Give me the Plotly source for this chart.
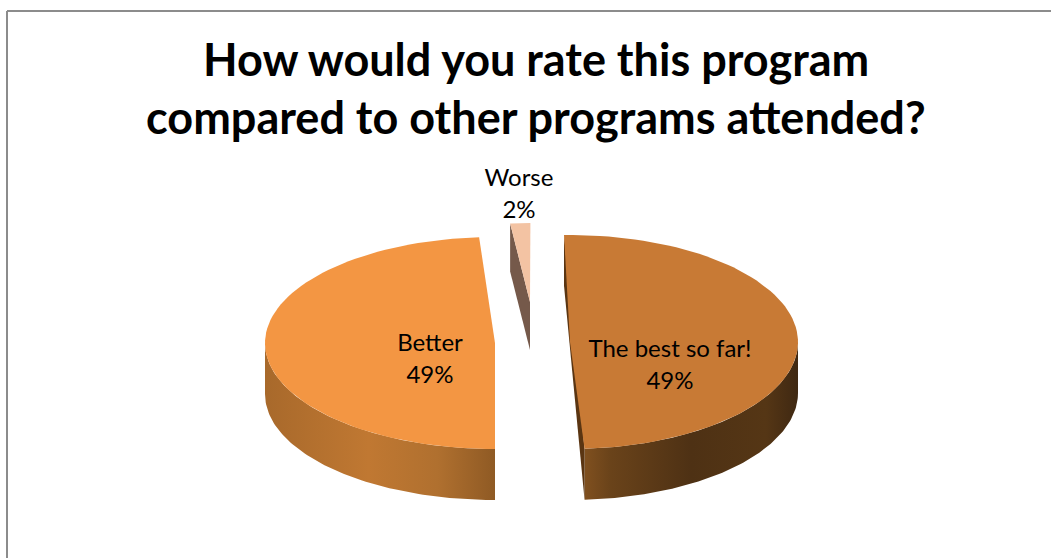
import numpy as np
import plotly.graph_objects as go

# Data (labels show rounded percentages)
categories = ["The best so far!", "Better", "Worse"]
shares = [49.4, 48.9, 1.7]

# Pseudo-3D styling, one entry per slice
start_deg = [-1.5, 180.0, 354.0]
center_x = [570.0, 495.0, 530.0]
center_y = [342.0, 343.0, 302.0]
radius_x = [228.0, 230.0, 190.0]
radius_y = [107.0, 106.0, 79.0]
depth = [51.0, 51.0, 48.0]
top_colors = ["#c87a35", "#f39643", "#f3c3a3"]
wall_scales = [
    [[0, "#80501f"], [0.12, "#6a431a"], [0.5, "#4e3114"], [0.85, "#553615"], [1, "#3f2812"]],
    [[0, "#a8692b"], [0.45, "#c07832"], [0.75, "#b0702f"], [1, "#8f5a24"]],
    [[0, "#8a6a58"], [1, "#655044"]],
]
cut_colors = ["#5a3512", "#c07a33", "#75594a"]
label_x = [670.0, 430.0, 519.0]
label_y = [367.0, 361.0, 196.0]
label_colors = ["#000000", "#000000", "#000000"]


def rim(i, a0, a1, n=80):
    t = np.radians(np.linspace(a0, a1, n))
    return center_x[i] + radius_x[i] * np.sin(t), center_y[i] - radius_y[i] * np.cos(t)


fig = go.Figure()
for i, share in enumerate(shares):
    a0 = start_deg[i]
    a1 = a0 + share * 3.6
    w0, w1 = max(a0, 90.0), min(a1, 270.0)
    if w1 > w0:
        x, y = rim(i, w0, w1)
        fig.add_trace(go.Scatter(
            x=np.r_[x, x[::-1]], y=np.r_[y, y[::-1] + depth[i]],
            mode="lines", line=dict(width=0), fill="toself",
            fillgradient=dict(type="horizontal", colorscale=wall_scales[i]),
            hoverinfo="skip", showlegend=False))
    if i in (0, 2):
        ex, ey = rim(i, a0, a0, 1)
        cx, cy = center_x[i], center_y[i]
        if i == 0:
            bx, by = rim(i, a1, a1, 1)
            px, py = [ex[0], bx[0], bx[0], ex[0]], [ey[0], by[0], by[0] + depth[i], ey[0] + depth[i]]
        else:
            px, py = [ex[0], cx, cx, ex[0]], [ey[0], cy, cy + depth[i], ey[0] + depth[i]]
        fig.add_trace(go.Scatter(
            x=px, y=py, mode="lines", line=dict(width=0), fill="toself",
            fillcolor=cut_colors[i], hoverinfo="skip", showlegend=False))
    x, y = rim(i, a0, a1)
    fig.add_trace(go.Scatter(
        x=np.r_[center_x[i], x, center_x[i]], y=np.r_[center_y[i], y, center_y[i]],
        mode="lines", line=dict(width=0), fill="toself", fillcolor=top_colors[i],
        name=categories[i], hoverinfo="name", showlegend=False))

fig.add_trace(go.Scatter(
    x=label_x, y=label_y, mode="text",
    text=[f"{c}<br>{round(s)}%" for c, s in zip(categories, shares)],
    textposition="middle center",
    textfont=dict(family="Lato", size=24, color=label_colors),
    hoverinfo="skip", showlegend=False))

title_lines = ["How would you rate this program", "compared to other programs attended?"]
title_y = [59, 117]
annotations = [
    dict(text=t, x=535.5, y=yy, xref="x", yref="y", showarrow=False, xanchor="center", yanchor="middle",
         font=dict(family="Lato", size=45, color="#000000", weight="bold"))
    for t, yy in zip(title_lines, title_y)
]

fig.update_layout(
    width=1051, height=558, margin=dict(l=0, r=0, t=0, b=0),
    paper_bgcolor="#ffffff", plot_bgcolor="#ffffff", showlegend=False,
    xaxis=dict(range=[0, 1051], visible=False, fixedrange=True),
    yaxis=dict(range=[558, 0], visible=False, fixedrange=True),
    annotations=annotations,
    shapes=[
        dict(type="line", x0=7, x1=1051, y0=11, y1=11, line=dict(color="#8c8c8c", width=2)),
        dict(type="line", x0=7, x1=7, y0=11, y1=558, line=dict(color="#8c8c8c", width=2)),
    ],
)
fig.write_html("out.html", config=dict(displayModeBar=False),
               post_script="document.body.style.margin='0';document.documentElement.style.overflow='hidden';")
